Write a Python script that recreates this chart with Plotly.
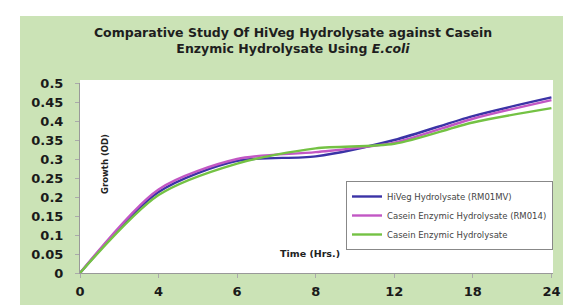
import plotly.graph_objects as go

categories = ["0", "4", "6", "8", "12", "18", "24"]
hiveg = [0, 0.213, 0.295, 0.307, 0.350, 0.413, 0.462]
casein_rm014 = [0, 0.220, 0.300, 0.318, 0.343, 0.406, 0.455]
casein = [0, 0.205, 0.288, 0.328, 0.340, 0.396, 0.434]
y_ticks = [0, 0.05, 0.1, 0.15, 0.2, 0.25, 0.3, 0.35, 0.4, 0.45, 0.5]
y_tick_text = ["0", "0.05", "0.1", "0.15", "0.2", "0.25", "0.3", "0.35", "0.4", "0.45", "0.5"]

W, H = 571, 305
L, R, T, B = 72, 26, 75, 40
FONT = "DejaVu Sans, Arial, sans-serif"

xs = list(range(len(categories)))

fig = go.Figure()
series = [
    ("HiVeg Hydrolysate (RM01MV)", hiveg, "#3b33a6"),
    ("Casein Enzymic Hydrolysate (RM014)", casein_rm014, "#c257c4"),
    ("Casein Enzymic Hydrolysate", casein, "#74c244"),
]
for name, vals, col in series:
    fig.add_trace(go.Scatter(
        x=xs, y=vals, name=name, mode="lines",
        line=dict(color=col, width=2.4, shape="spline", smoothing=0.8),
    ))

def px_x(p):
    return (p - L) / (W - L - R)

def px_y(p):
    return (H - B - p) / (H - T - B)

shapes = [
    dict(type="rect", xref="paper", yref="paper", layer="below",
         x0=px_x(12), x1=px_x(W + 5), y0=px_y(303), y1=px_y(8),
         fillcolor="#cbe3b6", line=dict(width=0)),
    dict(type="rect", xref="paper", yref="paper", layer="below",
         x0=px_x(L), x1=px_x(545), y0=px_y(H - B), y1=px_y(72),
         fillcolor="white", line=dict(width=0)),
]

tickfont = dict(family=FONT, size=13, color="#1a1a1a", weight="bold")

fig.update_layout(
    width=W, height=H,
    margin=dict(l=L, r=R, t=T, b=B, autoexpand=False),
    paper_bgcolor="white", plot_bgcolor="rgba(0,0,0,0)",
    shapes=shapes,
    font=dict(family=FONT, color="#222"),
    title=dict(
        text="<b>Comparative Study Of HiVeg Hydrolysate against Casein<br>Enzymic Hydrolysate Using <i>E.coli</i></b>",
        x=285 / W, xref="container", xanchor="center",
        y=1 - 29 / H, yref="container", yanchor="top",
        font=dict(family=FONT, size=12.5, color="#1e1e1e"),
    ),
    xaxis=dict(
        range=[0, 6.02], tickvals=xs, ticktext=categories,
        showgrid=False, zeroline=False, showline=True, linecolor="#999", linewidth=1,
        ticks="outside", ticklen=4, tickcolor="#aaa",
        tickfont=tickfont, ticklabelstandoff=2,
    ),
    yaxis=dict(
        range=[0, 0.5], tickvals=y_ticks, ticktext=y_tick_text,
        showgrid=False, zeroline=False, showline=True, linecolor="#999", linewidth=1,
        ticks="outside", ticklen=4, tickcolor="#aaa",
        tickfont=tickfont, ticklabelstandoff=9,
    ),
    legend=dict(
        x=px_x(338), y=px_y(173), xanchor="left", yanchor="top",
        bgcolor="white", bordercolor="#888", borderwidth=1,
        font=dict(family=FONT, size=8.5, color="#444"),
        itemwidth=30,
    ),
    annotations=[
        dict(text="<b>Growth (OD)</b>", xref="paper", yref="paper",
             x=px_x(90), y=px_y(156), showarrow=False, textangle=-90,
             font=dict(family=FONT, size=8.5, color="#222")),
        dict(text="<b>Time (Hrs.)</b>", xref="paper", yref="paper",
             x=px_x(302), y=px_y(253), showarrow=False,
             font=dict(family=FONT, size=9.5, color="#222")),
    ],
)

fig.write_html("out.html")
